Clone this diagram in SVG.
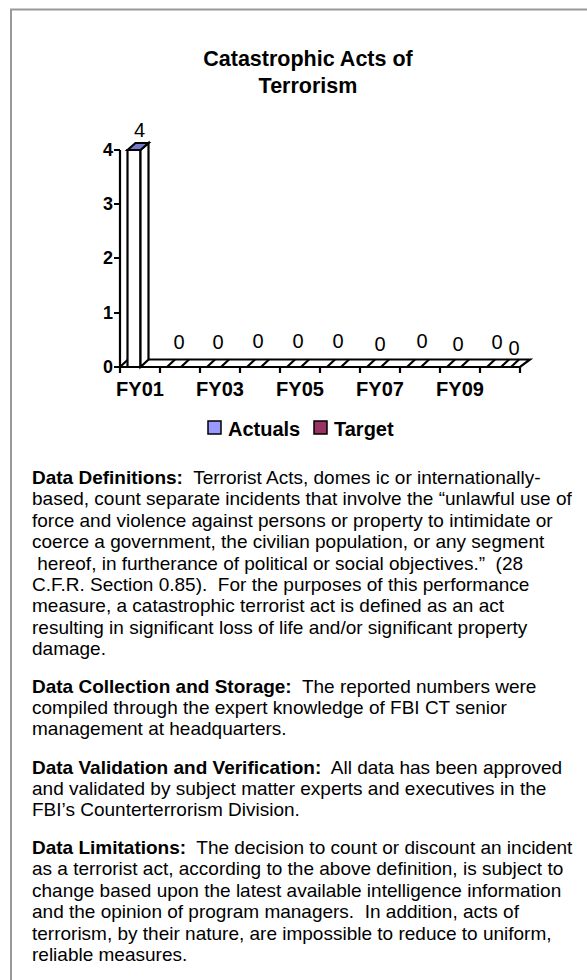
<svg xmlns="http://www.w3.org/2000/svg" width="587" height="980" viewBox="0 0 587 980">
<style>
.t{font-family:"Liberation Sans",Arial,sans-serif;fill:#000}
.title{font-size:21.5px;font-weight:bold;text-anchor:middle}
.ax{font-size:18px;font-weight:bold;text-anchor:end}
.cat{font-size:20px;font-weight:bold;text-anchor:middle}
.lbl{font-size:20px;text-anchor:middle}
.leg{font-size:20px;font-weight:bold}
.body{font-size:19px}
.b{font-weight:bold}
.ln{stroke:#000;stroke-width:2.2;fill:none}
</style>
<rect width="587" height="980" fill="#fff"/>
<g id="frame"><path d="M11,980 V9.5 H587" stroke="#999" stroke-width="2" fill="none"/></g>
<g id="title"><text class="t title" x="308" y="66">Catastrophic Acts of</text><text class="t title" x="308" y="93">Terrorism</text></g>
<g id="axis">
<path class="ln" d="M120,150 V367 M114,150 H120 M114,204 H120 M114,258 H120 M114,313 H120 M114,367 H120"/>
<path class="ln" d="M120,367 V373 M160,367 V373 M200,367 V373 M240,367 V373 M280,367 V373 M320,367 V373 M360,367 V373 M400,367 V373 M440,367 V373 M480,367 V373 M520,367 V373"/>
<text class="t ax" x="113" y="156">4</text>
<text class="t ax" x="113" y="210">3</text>
<text class="t ax" x="113" y="264">2</text>
<text class="t ax" x="113" y="319">1</text>
<text class="t ax" x="113" y="373">0</text>
</g>
<g id="floor">
<path class="ln" d="M120,367 H520 L530,359.5 H128 Z"/>
<path class="ln" d="M167,367 l8,-7.5 M181,367 l8,-7.5 M207,367 l8,-7.5 M221,367 l8,-7.5 M247,367 l8,-7.5 M261,367 l8,-7.5 M287,367 l8,-7.5 M301,367 l8,-7.5 M327,367 l8,-7.5 M341,367 l8,-7.5 M367,367 l8,-7.5 M381,367 l8,-7.5 M407,367 l8,-7.5 M421,367 l8,-7.5 M447,367 l8,-7.5 M461,367 l8,-7.5 M487,367 l8,-7.5 M501,367 l8,-7.5 M511,367 l8,-7.5"/>
</g>
<g id="bar-fy01">
<path d="M127.5,367 V150 H140.5 V367 Z" fill="#fff" stroke="#000" stroke-width="2.2"/>
<path d="M140.5,367 V150 L148.5,143 V359.5 Z" fill="#fff" stroke="#000" stroke-width="2.2"/>
<path d="M127.5,150 L135.5,143 H148.5 L140.5,150 Z" fill="#7777CC" stroke="#000" stroke-width="2.2"/>
</g>
<g id="labels">
<text class="t lbl" x="139.5" y="137">4</text>
<text class="t lbl" x="179" y="348.5">0</text>
<text class="t lbl" x="218" y="348.5">0</text>
<text class="t lbl" x="258" y="348">0</text>
<text class="t lbl" x="298" y="348">0</text>
<text class="t lbl" x="338" y="348">0</text>
<text class="t lbl" x="380" y="350.5">0</text>
<text class="t lbl" x="422" y="348">0</text>
<text class="t lbl" x="458" y="350.5">0</text>
<text class="t lbl" x="497" y="349">0</text>
<text class="t lbl" x="514" y="355">0</text>
</g>
<g id="categories">
<text class="t cat" x="140" y="396">FY01</text>
<text class="t cat" x="220" y="396">FY03</text>
<text class="t cat" x="300" y="396">FY05</text>
<text class="t cat" x="380" y="396">FY07</text>
<text class="t cat" x="460" y="396">FY09</text>
</g>
<g id="legend">
<rect x="208" y="421" width="13" height="13" fill="#9999FF" stroke="#000" stroke-width="1.5"/>
<text class="t leg" x="228" y="436">Actuals</text>
<rect x="314" y="421" width="13" height="13" fill="#993366" stroke="#000" stroke-width="1.5"/>
<text class="t leg" x="334" y="436">Target</text>
</g>
<g id="text-body" class="t body">
<text x="32" y="484" xml:space="preserve"><tspan class="b">Data Definitions:</tspan>  Terrorist Acts, domes ic or internationally-</text>
<text x="32" y="505.4">based, count separate incidents that involve the “unlawful use of</text>
<text x="32" y="526.8">force and violence against persons or property to intimidate or</text>
<text x="32" y="548.2">coerce a government, the civilian population, or any segment</text>
<text x="32" y="569.6" xml:space="preserve"> hereof, in furtherance of political or social objectives.”  (28</text>
<text x="32" y="591" xml:space="preserve">C.F.R. Section 0.85).  For the purposes of this performance</text>
<text x="32" y="612.4">measure, a catastrophic terrorist act is defined as an act</text>
<text x="32" y="633.8">resulting in significant loss of life and/or significant property</text>
<text x="32" y="655.2">damage.</text>
<text x="32" y="692.6" xml:space="preserve"><tspan class="b">Data Collection and Storage:</tspan>  The reported numbers were</text>
<text x="32" y="714">compiled through the expert knowledge of FBI CT senior</text>
<text x="32" y="735.4">management at headquarters.</text>
<text x="32" y="773.5" xml:space="preserve"><tspan class="b">Data Validation and Verification:</tspan>  All data has been approved</text>
<text x="32" y="794.9">and validated by subject matter experts and executives in the</text>
<text x="32" y="816.3">FBI’s Counterterrorism Division.</text>
<text x="32" y="854" xml:space="preserve"><tspan class="b">Data Limitations:</tspan>  The decision to count or discount an incident</text>
<text x="32" y="875.4">as a terrorist act, according to the above definition, is subject to</text>
<text x="32" y="896.8">change based upon the latest available intelligence information</text>
<text x="32" y="918.2" xml:space="preserve">and the opinion of program managers.  In addition, acts of</text>
<text x="32" y="939.6">terrorism, by their nature, are impossible to reduce to uniform,</text>
<text x="32" y="961">reliable measures.</text>
</g>
</svg>
